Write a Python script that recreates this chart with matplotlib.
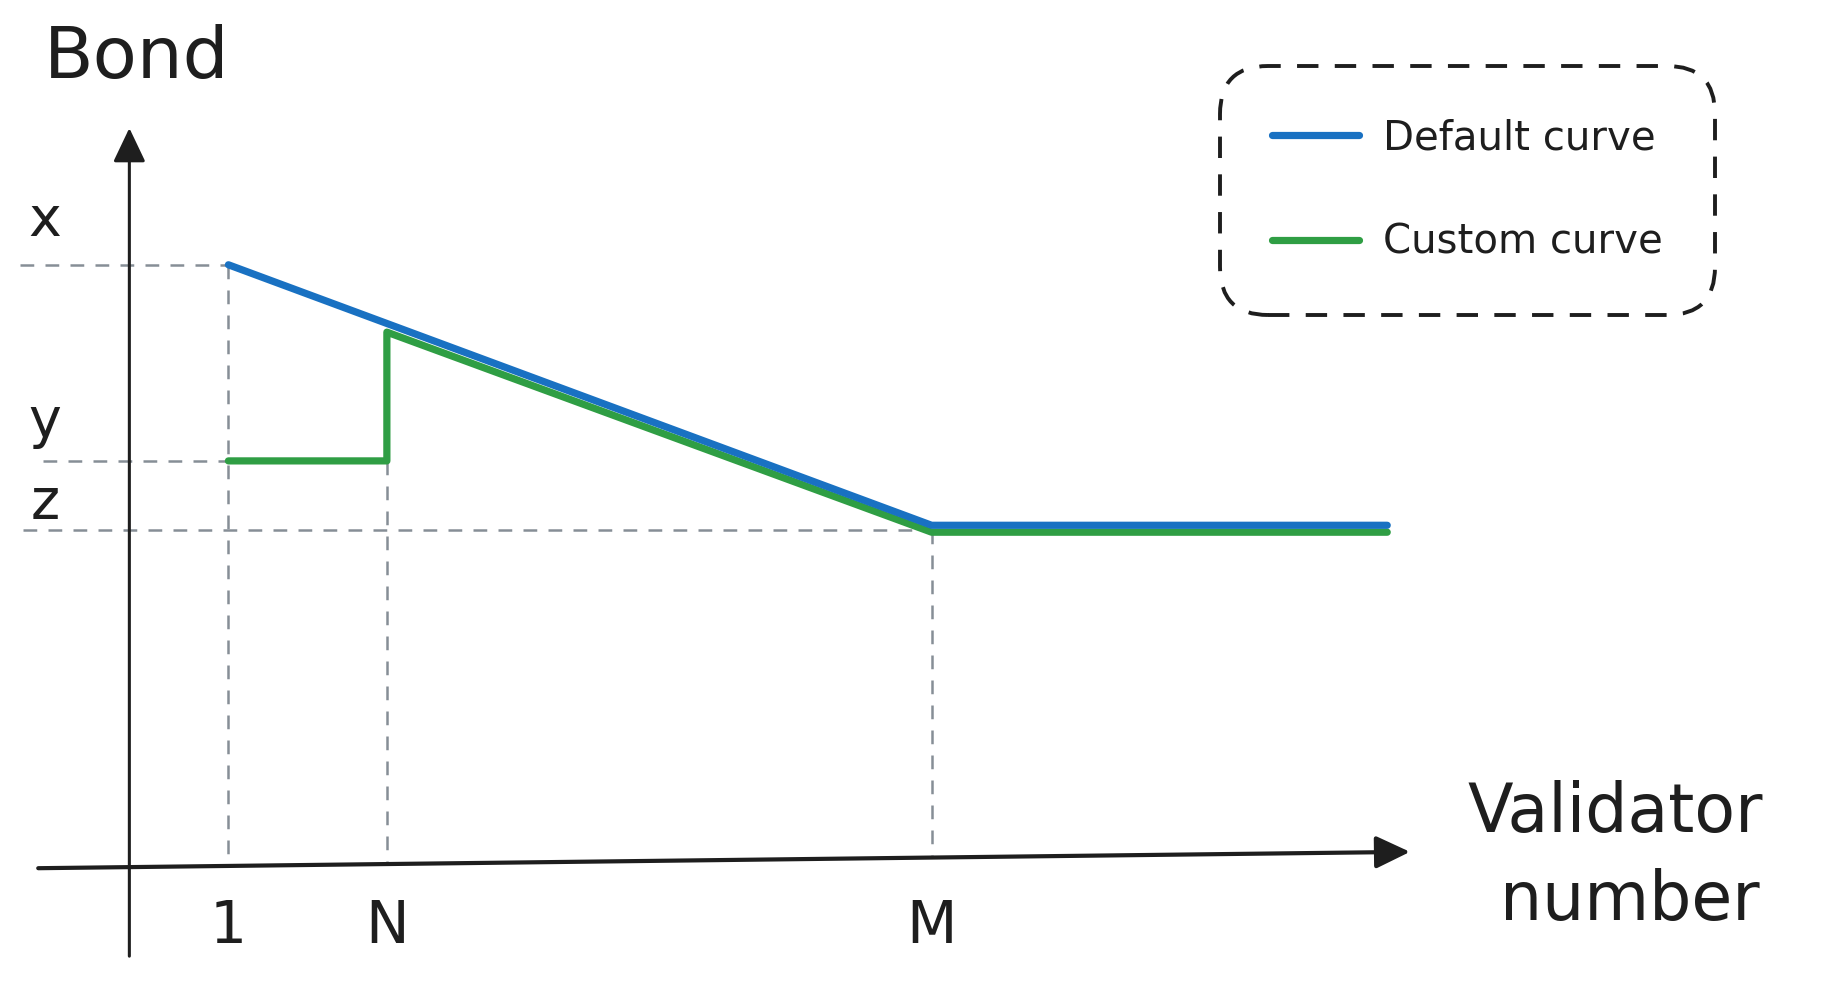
import matplotlib
matplotlib.use("Agg")
import matplotlib.pyplot as plt

# values (arbitrary units, origin where the axes cross)
tick_labels = ['1', 'N', 'M']
tick_pos = [1.0, 2.6, 8.1]
level_labels = ['x', 'y', 'z']
level_vals = [6.08, 4.1, 3.4]

default_x = [1.0, 8.1, 12.7]
default_y = [6.08, 3.45, 3.45]
custom_x = [1.0, 2.6, 2.6, 8.1, 12.7]
custom_y = [4.1, 4.1, 5.4, 3.38, 3.38]

BLUE = '#1971c2'
GREEN = '#2f9e44'
INK = '#1e1e1e'
GREY = '#868e96'

plt.rcParams['font.family'] = ['DejaVu Sans']

fig = plt.figure(figsize=(18.27, 9.94), dpi=100)
ax = fig.add_axes([0, 0, 1, 1])
ax.set_xlim(-1.306, 17.14)
ax.set_ylim(-1.282, 8.753)
ax.axis('off')

# dashed guide lines
gd = dict(color=GREY, lw=1.8, dashes=(5.5, 4.5), zorder=1)
ax.plot([-1.1, tick_pos[0]], [level_vals[0]] * 2, **gd)
ax.plot([-0.87, tick_pos[0]], [level_vals[1]] * 2, **gd)
ax.plot([-1.07, tick_pos[2]], [level_vals[2]] * 2, **gd)
ax.plot([tick_pos[0]] * 2, [level_vals[0], 0.02], **gd)
ax.plot([tick_pos[1]] * 2, [level_vals[1], 0.04], **gd)
ax.plot([tick_pos[2]] * 2, [level_vals[2], 0.1], **gd)

# axes arrows
ax.annotate('', xy=(0, 7.46), xytext=(0, -0.9),
            arrowprops=dict(arrowstyle='-|>,head_length=1.05,head_width=0.5',
                            color=INK, lw=2.2, mutation_scale=20, shrinkA=0, shrinkB=0))
ax.annotate('', xy=(12.93, 0.153), xytext=(-0.92, -0.012),
            arrowprops=dict(arrowstyle='-|>,head_length=1.05,head_width=0.5',
                            color=INK, lw=3, mutation_scale=20, shrinkA=0, shrinkB=0))

# curves
ax.plot(default_x, default_y, color=BLUE, lw=5.2, solid_capstyle='round',
        solid_joinstyle='round', zorder=3, label='Default curve')
ax.plot(custom_x, custom_y, color=GREEN, lw=5.2, solid_capstyle='round',
        solid_joinstyle='round', zorder=2, label='Custom curve')

# labels
ax.text(-0.86, 8.16, 'Bond', fontsize=52, color=INK, ha='left', va='center')
for lab, yv, yoff in zip(level_labels, level_vals, [0.44, 0.39, 0.27]):
    ax.text(-0.85, yv + yoff, lab, fontsize=40, color=INK, ha='center', va='center')
for lab, xv in zip(tick_labels, tick_pos):
    ax.text(xv, -0.6, lab, fontsize=42, color=INK, ha='center', va='center')
ax.text(15.0, 0.55, 'Validator', fontsize=48, color=INK, ha='center', va='center')
ax.text(15.15, -0.34, 'number', fontsize=48, color=INK, ha='center', va='center')

leg = ax.legend(loc='upper right', bbox_to_anchor=(1715 / 1827, 1 - 66 / 994),
                bbox_transform=fig.transFigure, borderaxespad=0, fontsize=29,
                handlelength=2.15, handletextpad=0.6, labelspacing=1.6,
                borderpad=1.3, fancybox=True, framealpha=1)
for t in leg.get_texts():
    t.set_color(INK)
fr = leg.get_frame()
fr.set_boxstyle('round', pad=0, rounding_size=1.2)
fr.set_edgecolor(INK)
fr.set_linewidth(2.8)
fr.set_linestyle((0, (5.5, 4.2)))

fig.savefig('out.png', dpi=100, facecolor='white')
